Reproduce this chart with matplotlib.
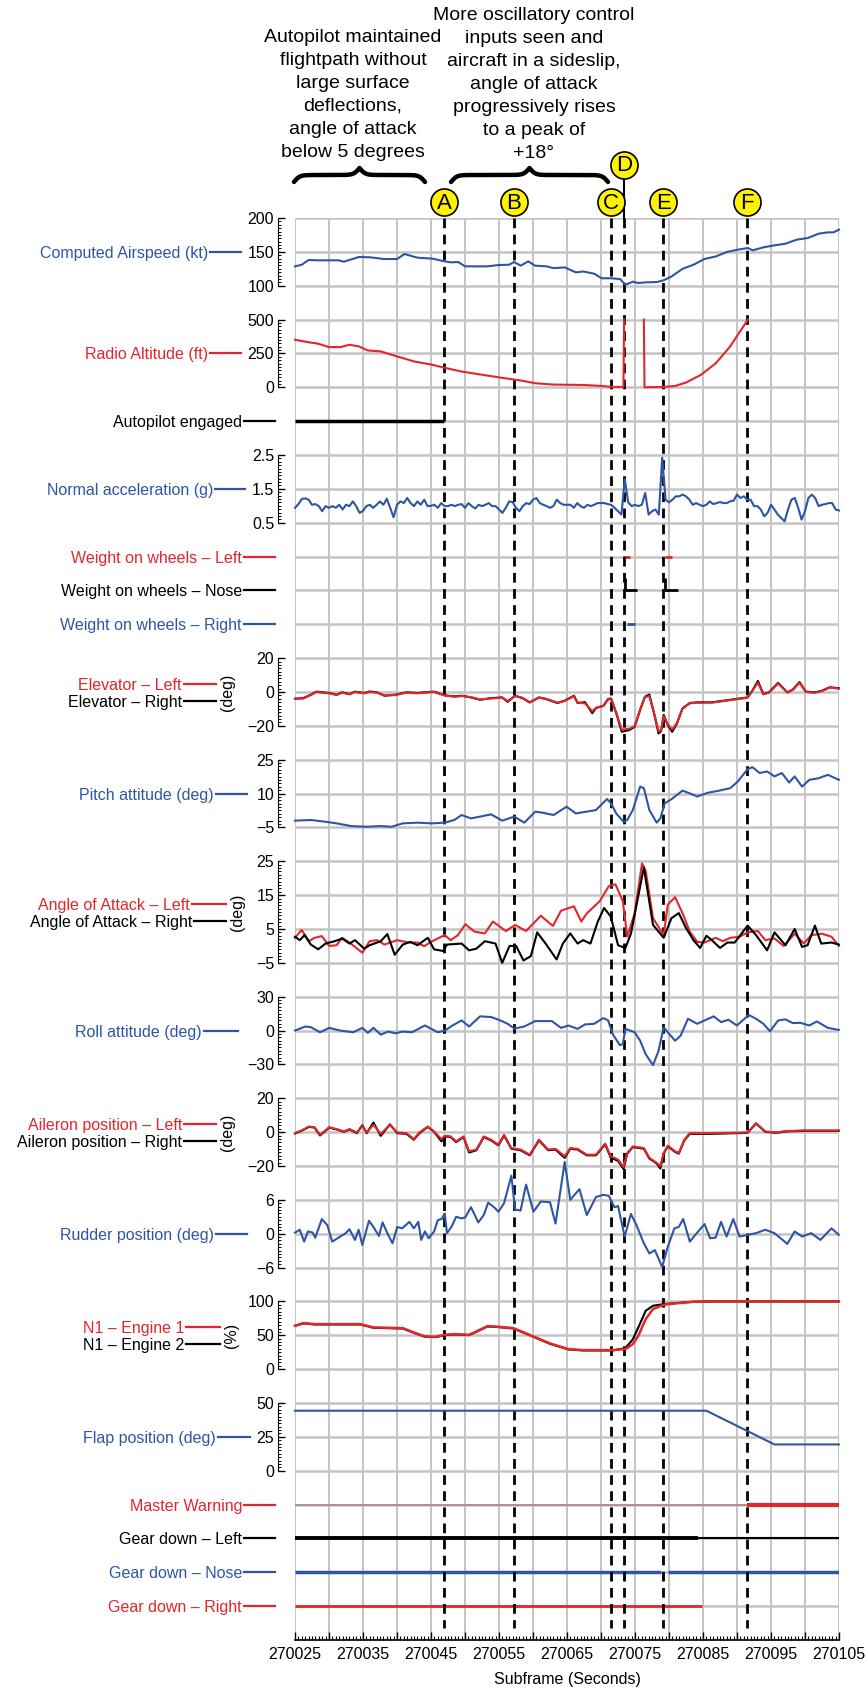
import numpy as np
import matplotlib.pyplot as plt
from matplotlib.ticker import MultipleLocator, AutoMinorLocator, FuncFormatter

plt.rcParams['font.family'] = ['Liberation Sans', 'DejaVu Sans']

BLUE = '#2e55a5'
RED = '#e3262c'
YEL = '#fff200'
GRID = '#c4c4c4'

T0 = 270025  # subframe of first sample, times below are seconds after T0

# event markers
EVENT_NAMES = ['A', 'B', 'C', 'D', 'E', 'F']
EVENT_T = [21.9, 32.2, 46.4, 48.45, 54.15, 66.4]

NOTE_LEFT = ['Autopilot maintained', 'flightpath without', 'large surface', 'deflections,',
             'angle of attack', 'below 5 degrees']
NOTE_RIGHT = ['More oscillatory control', 'inputs seen and', 'aircraft in a sideslip,',
              'angle of attack', 'progressively rises', 'to a peak of', '+18\u00b0']

AIRSPEED_T = [0, 1.0, 2.0, 3.4, 5.0, 6.4, 7.2, 9.4, 11.0, 13.1, 15.0, 16.1, 18.0, 20.2, 22.0,
              22.9, 24.0, 25.0, 26.7, 28.3, 29.9, 31.5, 32.2, 33.2, 34.3, 35.3, 37.0, 38.0,
              39.7, 41.3, 42.4, 44.0, 45.1, 46.5, 47.8, 48.6, 49.7, 50.5, 51.6, 53.2, 54.2,
              55.4, 57.0, 58.6, 60.2, 61.9, 63.5, 65.1, 66.6, 67.3, 68.9, 70.5, 72.1, 73.8,
              75.4, 77.0, 78.3, 79.2, 80.0]
AIRSPEED = [128.6, 131, 138, 137.5, 137.5, 137.5, 135.5, 142.4, 142, 139.4, 139.4, 146.8, 141.4,
            140, 136, 134.5, 135, 128.6, 128.6, 128.6, 130.5, 131, 135, 129.6, 136, 129.6, 128.6,
            126, 127, 119.7, 121, 117.7, 111, 111, 109.8, 101.5, 106, 104, 105, 105.4, 108,
            113.8, 125, 131, 139.4, 143.3, 149.8, 153.2, 155.7, 152.2, 156.7, 159.6, 162, 168,
            170.4, 176.8, 178.8, 178.8, 182.8]

RADALT_T = [0, 1.8, 3.4, 5.0, 6.7, 8.0, 9.4, 10.7, 12.6, 15.0, 17.5, 20.2, 22.0, 24.5, 26.7,
            29.9, 33.2, 35.3, 38.0, 42.4, 45.1, 46.7, 48.3, 48.4, 48.5, 51.3, 51.4, 54.2, 55.9,
            57.5, 59.7, 61.9, 64.0, 66.6]
RADALT = [351, 334, 322, 297, 297, 314, 302, 272, 265, 228, 191, 166, 144, 116, 99, 74, 50, 30,
          20, 17, 10, 2, 3, 500, np.nan, 500, 0, 2, 10, 35, 92, 178, 302, 500]

AUTOPILOT_ON = [(0, 21.9)]

ACC_DT = 0.5
ACCEL = [0.94, 1.05, 1.20, 1.22, 1.18, 1.03, 1.05, 0.99, 0.84, 0.99, 0.94, 0.99, 0.94, 1.03, 0.89, 1.03, 0.99, 1.13, 0.99, 0.79,
         0.85, 0.99, 1.03, 0.94, 1.03, 1.13, 1.03, 1.21, 0.94, 0.66, 1.03, 1.13, 1.08, 1.23, 1.08, 0.99, 1.13, 1.03, 1.18, 0.99,
         1.00, 1.03, 0.94, 1.08, 0.99, 0.99, 1.03, 0.99, 1.03, 1.05, 0.94, 1.08, 0.99, 0.92, 1.03, 0.99, 1.03, 1.08, 0.99, 0.99,
         0.89, 0.79, 0.94, 1.13, 1.11, 0.94, 0.84, 0.99, 1.08, 1.05, 1.18, 1.23, 1.08, 1.03, 0.99, 0.94, 0.99, 1.18, 1.08, 1.03,
         1.03, 1.03, 0.94, 1.08, 0.99, 0.94, 1.03, 0.99, 1.03, 1.08, 1.08, 1.08, 1.05, 1.03, 0.94, 0.84, 0.74, 1.78, 1.10, 0.99,
         1.03, 0.99, 1.03, 1.38, 0.74, 0.84, 0.89, 0.74, 2.42, 1.18, 1.10, 1.18, 1.28, 1.28, 1.33, 1.28, 1.18, 1.03, 1.08, 1.03,
         0.99, 1.03, 1.13, 1.05, 1.08, 1.11, 1.08, 1.08, 1.13, 1.15, 1.33, 1.23, 1.28, 1.18, 1.18, 0.99, 0.99, 0.89, 0.69, 0.79,
         1.03, 0.89, 0.74, 0.64, 0.54, 0.89, 1.18, 1.23, 0.94, 0.59, 0.84, 1.23, 1.33, 1.23, 0.99, 1.03, 1.05, 1.08, 1.08, 0.89, 0.86]

WOW_LEFT = [(48.3, 49.3), (54.4, 55.4)]
WOW_NOSE = [(48.6, 50.3), (54.4, 56.3)]
WOW_RIGHT = [(48.8, 50.0)]

ELEV_T = [0, 1.24, 2.33, 3.14, 5.03, 6.11, 6.93, 8.01, 8.82, 10.17, 10.98, 12.07, 13.15, 14.77,
          16.40, 18.02, 19.10, 20.45, 22.02, 23.43, 24.51, 25.87, 27.22, 28.84, 30.47, 31.28,
          32.36, 33.44, 34.52, 35.88, 36.96, 38.58, 39.66, 41.02, 41.56, 42.64, 43.72, 44.26,
          45.35, 46.05, 46.48, 47.24, 48.05, 49.13, 49.95, 50.76, 51.46, 52.11, 52.92, 53.46,
          53.84, 54.22, 54.82, 55.47, 56.17, 56.98, 58.06, 59.15, 61.31, 64.02, 66.56, 67.26,
          68.07, 68.88, 69.70, 71.05, 72.40, 73.21, 74.19, 75.11, 76.46, 77.54, 78.63, 79.98]
ELEV_L = [-4, -3.8, -1.8, 0, -0.8, -1.8, -0.4, -1.4, 0, -0.8, 0, -0.4, -2, -1.8, -0.4, -0.8, -0.4,
          0, -2, -2.8, -2.4, -3, -4.4, -3.8, -3.4, -5.3, -2.4, -3.4, -6, -3.4, -4, -6.3, -5.3,
          -2.4, -6.3, -6.7, -11.3, -9.3, -8.3, -4.4, -4, -12.3, -22.2, -21.8, -20.2, -10.3, -3,
          -2.4, -14.3, -23.2, -22.6, -14.3, -19.2, -22.2, -18.2, -9.9, -6.7, -6.3, -6.3, -4.8,
          -3.4, 0.6, 5.5, -1.4, -0.4, 5, -0.4, 1.2, 5.5, 0, -0.4, 0.6, 2.6, 2]
ELEV_R = [-4, -3.6, -1.6, 0.2, -0.6, -1.6, -0.2, -1.2, 0.2, -0.6, 0.3, -0.2, -2.2, -1.6, -0.2,
          -0.6, -0.2, 0.2, -2, -2.6, -2.2, -3.2, -4.6, -3.6, -3.2, -5.8, -2.2, -3.6, -6.2, -3.2,
          -4.2, -6.5, -5.1, -2.2, -6.5, -6, -12.5, -9.5, -8.1, -4.2, -3.8, -12.5, -23.5, -22.5,
          -20.6, -10.5, -2.8, -1.5, -14.5, -24.5, -23, -13.5, -19.6, -23.5, -18.6, -9.7, -6.5,
          -6.1, -6.1, -4.6, -3.2, 0.8, 6.5, -1.2, -0.2, 5.4, -0.2, 1.4, 5.9, 0.2, -0.2, 0.8, 2.8, 2.2]

PITCH_T = [0, 2.33, 4.49, 6.11, 8.28, 10.44, 12.61, 14.23, 15.85, 18.02, 20.18, 22.02, 23.43,
           24.51, 25.87, 27.22, 28.84, 30.47, 32.25, 33.71, 35.34, 36.42, 38.04, 39.94, 41.29,
           42.91, 44.26, 45.89, 46.48, 47.24, 48.32, 48.86, 49.68, 50.76, 51.30, 52.11, 53.19,
           53.73, 54.38, 55.36, 56.98, 58.06, 59.15, 60.77, 62.39, 64.02, 65.10, 66.56, 67.26,
           68.34, 69.43, 70.51, 71.59, 72.67, 73.48, 74.57, 75.65, 77.00, 78.36, 79.98]
PITCH = [-2.0, -1.7, -2.5, -3.2, -4.4, -4.7, -4.4, -4.7, -3.2, -2.9, -3.2, -2.9, -1.7, 0.5, -1.0,
         -0.2, 0.8, -2.0, -0.2, -2.9, 2.0, 1.5, 0.5, 4.2, 1.2, 2.0, 2.7, 7.6, 5.7, 1.2, -2.5, -1.7,
         2.7, 13.1, 12.4, 2.7, -2.9, -1.0, 5.7, 7.5, 11.3, 10.1, 8.7, 10.4, 11.3, 12.4, 15.3, 20.8,
         21.7, 19.1, 19.8, 17.6, 19.1, 14.9, 17.6, 13.1, 16.1, 16.8, 18.3, 16.1]

AOA_LEFT = [(0, 2.4), (0.97, 4.7), (2.06, 1.4), (2.87, 2.4), (3.95, 2.9), (5.03, 0), (6.11, 0.2),
            (6.93, 2.4), (8.01, 1.0), (9.90, -2), (10.98, 1.4), (12.07, 1.7), (13.15, 0.4),
            (15.04, 1.7), (16.67, 1.0), (18.02, 1.0), (18.99, -0.1), (20.18, 1.4), (22.02, 3.2),
            (22.89, 1.7), (23.97, 3.2), (25.05, 6.4), (26.41, 4.2), (27.92, 3.7), (29.11, 7.2),
            (31.01, 4.4), (32.36, 6.2), (33.98, 4.4), (36.15, 8.9), (37.93, 5.9), (39.12, 10.4),
            (41.02, 11.7), (42.10, 7.2), (42.91, 9.6), (44.81, 13.2), (46.16, 17.7), (47.13, 18.2),
            (48.21, 13.2), (48.86, 2.7), (49.95, 9.6), (51.03, 24.4), (51.57, 22.2), (52.65, 8.2),
            (54.22, 3.2), (54.82, 12.2), (55.90, 14.4), (56.98, 9.7), (58.06, 4.2), (59.15, 1.2),
            (60.23, 1.0), (61.85, 2.4), (62.93, 1.4), (64.02, 2.4), (65.37, 2.7), (66.56, 4.0),
            (68.07, 4.4), (69.16, 1.7), (70.51, 2.2), (71.86, 0), (73.48, 3.6), (74.84, 0.7),
            (75.92, 3.2), (77.54, 3.6), (78.90, 2.7), (79.98, 0)]
AOA_RIGHT = [(0, 2.7), (0.70, 1.7), (1.41, 3.2), (2.33, 0.4), (3.41, -1.0), (4.49, 0.7),
             (5.84, 1.4), (6.93, 2.2), (8.01, 0.7), (8.82, 1.7), (10.17, -0.8), (10.98, 0.2),
             (12.61, 1.4), (13.58, 3.5), (14.66, -2.6), (15.85, 0.4), (16.94, 1.2), (18.02, 0.2),
             (19.53, 2.4), (20.45, -1.0), (21.81, -1.5), (22.35, 0.4), (24.51, 0.7), (25.60, -1.3),
             (26.68, -0.8), (27.92, 1.4), (29.49, 0.7), (30.47, -5), (31.55, 0), (32.52, 0),
             (33.60, -4.3), (34.69, -3), (35.61, 4.0), (36.85, 0.7), (38.47, -4), (39.39, 0.7),
             (40.48, 3.7), (41.56, 0.7), (42.37, 1.7), (43.45, 0.7), (44.53, 7.2), (45.45, 11.2),
             (46.43, 8.7), (47.51, 0.2), (48.59, -0.6), (49.40, 3.6), (51.30, 23.2), (52.65, 6.2),
             (54.22, 2.4), (55.36, 8.2), (56.44, 9.7), (57.52, 5.2), (58.60, 1.7), (59.58, -0.6),
             (60.50, 3.0), (61.31, 1.7), (62.50, -0.6), (63.58, 1.0), (64.66, 1.0), (66.56, 6.0),
             (67.80, 3.2), (69.43, -1.3), (70.51, 4.0), (72.13, 0.2), (73.48, 5.0), (74.57, -0.3),
             (75.38, 0.2), (76.46, 6.0), (77.38, 0.7), (78.90, 1.0), (79.98, 0.4)]

ROLL = [(0, 0), (1.52, 3.6), (2.33, 3), (3.68, -1.5), (5.03, 2.4), (6.66, 0), (8.55, -1.5),
        (9.90, 2.4), (10.71, -2.1), (11.53, 2.4), (12.61, -3.6), (13.69, -0.9), (14.77, -2.4),
        (15.85, -0.9), (17.21, -1.5), (19.10, 4.5), (21.00, -1.5), (22.02, 0), (23.16, 4.5),
        (24.51, 9), (25.60, 3.6), (27.22, 12.6), (28.84, 12), (30.19, 9), (31.28, 6), (32.25, 1.8),
        (33.71, 3.6), (35.34, 8.4), (37.77, 8.4), (39.12, 2.4), (40.21, 4.5), (41.56, 1.5),
        (42.64, 5.4), (43.99, 6), (45.35, 11.1), (46.05, 9), (46.70, -3), (47.78, -12.9),
        (48.21, -12), (48.59, 1.5), (49.95, -1.5), (50.76, -9), (51.57, -21), (52.65, -30.6),
        (53.46, -18), (54.22, 3), (54.82, -1.5), (55.90, -9), (56.71, -4.5), (57.79, 10.5),
        (59.15, 6), (60.23, 9), (61.58, 12.6), (62.66, 7.5), (63.74, 9.6), (64.99, 4.5),
        (66.72, 13.8), (67.80, 10.5), (68.88, 6), (69.86, -0.6), (71.05, 9), (72.13, 9.9),
        (73.21, 6.6), (74.30, 6.9), (75.65, 4.5), (76.73, 8.1), (78.36, 2.4), (79.98, 0.6)]

AILERON_L = [(0, -0.6), (0.97, 1), (2.06, 3.3), (2.87, 2.9), (3.68, -1.6), (5.03, 2.9), (6.11, 1.8),
             (7.20, 0.4), (8.01, 1.8), (9.09, -0.2), (9.90, 3.7), (10.55, -0.2), (11.53, 4.3),
             (12.61, -1), (13.96, 4.3), (15.04, -0.2), (16.40, -0.6), (17.48, -4.1), (18.29, -0.2),
             (19.53, 3.3), (20.45, 0.4), (21.54, -4.1), (22.02, -2.1), (22.89, -2.5), (23.70, -5.5),
             (24.78, -2.5), (25.60, -11.3), (26.68, -10.3), (27.76, -2.5), (28.84, -4.5),
             (29.92, -7.4), (30.74, -1.6), (31.82, -9.4), (33.17, -10.3), (34.52, -13.3),
             (35.88, -4.5), (37.23, -10.3), (38.31, -9.9), (39.66, -14.2), (40.48, -9.4),
             (41.56, -9.9), (42.91, -13.3), (44.26, -13.3), (45.62, -6.8), (46.43, -14.2),
             (47.51, -16.2), (48.32, -20.7), (48.86, -12.3), (49.68, -8.4), (51.30, -9.4),
             (52.11, -15.2), (53.19, -18.1), (53.73, -20.1), (54.22, -12.3), (54.82, -8),
             (55.90, -11.3), (56.44, -12.3), (57.25, -4.5), (58.06, -0.6), (61.31, -0.6),
             (66.56, -0.2), (67.80, 5.3), (69.16, 0.4), (70.78, -0.2), (72.13, 0.6), (74.84, 1),
             (79.98, 1)]
AILERON_R = [(0, -0.8), (0.97, 0.8), (2.06, 3.1), (2.87, 2.7), (3.68, -2.0), (5.03, 2.7), (6.11, 1.6),
             (7.20, 0.2), (8.01, 1.6), (9.09, -0.6), (9.90, 4.1), (10.55, -0.6), (11.53, 5.7),
             (12.61, -2.2), (13.96, 4.6), (15.04, -0.6), (16.40, -1.0), (17.48, -4.5), (18.29, -0.6),
             (19.53, 3.1), (20.45, 0.2), (21.54, -5.5), (22.02, -2.5), (22.89, -2.9), (23.70, -5.9),
             (24.78, -2.9), (25.60, -12), (26.68, -10.7), (27.76, -2.9), (28.84, -4.9),
             (29.92, -7.8), (30.74, -2.0), (31.82, -9.8), (33.17, -10.7), (34.52, -13.7),
             (35.88, -4.9), (37.23, -10.7), (38.31, -10.3), (39.66, -15.2), (40.48, -9.8),
             (41.56, -10.3), (42.91, -13.7), (44.26, -13.7), (45.62, -7.2), (46.43, -15),
             (47.51, -17), (48.32, -21.8), (48.86, -12.7), (49.68, -8.8), (51.30, -9.8),
             (52.11, -15.6), (53.19, -18.5), (53.73, -21.5), (54.22, -12.7), (54.82, -8.4),
             (55.90, -11.7), (56.44, -12.7), (57.25, -4.9), (58.06, -1.0), (61.31, -1.0),
             (66.56, -0.4), (67.80, 5.1), (69.16, 0.2), (70.78, -0.4), (72.13, 0.4), (74.84, 0.8),
             (79.98, 0.8)]

RUDDER = [(0, 0.2), (0.70, 0.7), (1.35, -1.4), (1.89, 0.4), (2.60, 0.2), (2.98, -0.7), (3.95, 2.6),
          (4.76, 1.5), (5.47, -1.4), (6.66, -0.5), (7.47, 0.1), (8.01, 0.8), (8.82, -1.1),
          (9.36, 0.7), (9.90, -2.0), (10.88, 2.3), (11.53, 1.2), (12.34, -0.4), (12.88, 2.0),
          (13.69, -0.2), (14.34, -1.7), (15.04, 1.2), (15.75, 0.95), (16.83, 2.1), (17.48, 0.95),
          (18.13, 2.1), (18.56, -1.1), (19.10, 0.4), (19.64, -0.8), (20.45, 0.4), (21.00, 2.4),
          (21.54, 2.6), (22.02, 3.6), (22.35, 0.1), (23.00, 1.2), (23.70, 3.0), (24.51, 2.7),
          (25.05, 2.9), (25.87, 4.7), (26.41, 3.4), (26.95, 2.0), (27.76, 3.3), (28.41, 5.5),
          (29.27, 4.7), (29.92, 3.9), (30.74, 5.4), (31.82, 10.3), (32.36, 4.3), (33.17, 4.1),
          (33.98, 8.7), (35.06, 3.9), (36.15, 5.7), (37.50, 5.6), (38.31, 1.8), (39.66, 12.7),
          (40.48, 6.0), (41.83, 7.9), (42.91, 3.3), (44.26, 6.5), (45.35, 6.9), (46.16, 6.7),
          (46.97, 4.7), (47.51, 4.9), (48.48, -0.5), (49.40, 3.5), (50.22, 1.5), (51.30, -1.7),
          (52.11, -3.5), (52.92, -2.9), (53.46, -4.4), (54.00, -5.9), (54.82, -2.3), (55.79, 0.95),
          (56.44, 1.2), (57.09, 2.6), (58.06, -1.4), (59.15, 0.2), (60.23, 1.7), (61.04, -0.8),
          (61.85, -0.7), (62.66, 2.1), (63.47, -0.5), (64.45, 2.6), (65.37, -0.5), (66.56, -0.2),
          (67.80, 0.1), (69.16, 0.7), (70.51, 0.1), (72.40, -1.8), (73.48, 0.4), (74.57, -0.5),
          (75.92, 0.1), (77.27, -1.1), (78.90, 0.95), (79.98, -0.2)]

N1_ENG1 = [(0, 64), (1.24, 68), (2.87, 66.5), (6.11, 66.5), (9.63, 66.5), (11.53, 61.6), (15.85, 60.6),
           (17.48, 54.2), (19.10, 48.3), (20.73, 47.8), (22.02, 50.7), (23.43, 51.7), (25.60, 50.7),
           (26.68, 55.7), (28.30, 63.5), (29.92, 62.6), (32.09, 60.6), (34.25, 51.7), (37.50, 37.9),
           (40.21, 29.6), (42.37, 28.1), (46.70, 28.1), (48.59, 29.6), (49.68, 36.9), (50.49, 49.3),
           (51.57, 73.9), (52.65, 88.7), (54.22, 95.1), (55.90, 97), (58.60, 99.5), (61.31, 100),
           (79.98, 100)]
N1_ENG2 = [(0, 64), (1.24, 67.5), (2.87, 66), (6.11, 66), (9.63, 66), (11.53, 61), (15.85, 60),
           (17.48, 53.6), (19.10, 47.8), (20.73, 47.3), (22.02, 50.2), (23.43, 51.2), (25.60, 50.2),
           (26.68, 55.2), (28.30, 63), (29.92, 62.1), (32.09, 60.1), (34.25, 51.2), (37.50, 37.4),
           (40.21, 29.1), (42.37, 27.6), (46.70, 27.6), (48.59, 31), (49.68, 44), (50.49, 61.6),
           (51.57, 86.2), (52.65, 93.6), (54.22, 96), (55.90, 97.5), (58.60, 99.5), (61.31, 100),
           (79.98, 100)]

FLAP_T = [0, 60.5, 70.5, 79.98]
FLAP = [44.3, 44.3, 19.4, 19.4]

MASTER_WARN_ON = [(66.4, 80.0)]
GEAR_LEFT_ON = [(0, 59.3)]
GEAR_NOSE_ON = [(0, 53.8), (54.9, 80.0)]
GEAR_RIGHT_ON = [(0, 59.8)]

# ---------------------------------------------------------------- layout
W, H = 865, 1689
X0, X1 = 295, 839
Y0, Y1 = 218, 1640
NROWS = 42
RH = (Y1 - Y0) / NROWS


def row_px(r):
    return Y0 + r * RH


fig = plt.figure(figsize=(W / 100, H / 100), dpi=100)

bg = fig.add_axes([X0 / W, 1 - Y1 / H, (X1 - X0) / W, (Y1 - Y0) / H])
bg.set_xlim(T0, T0 + 80)
bg.set_ylim(NROWS, 0)
bg.set_yticks(range(NROWS + 1))
bg.tick_params(axis='y', length=0, labelleft=False)
bg.grid(axis='y', color=GRID, lw=1.8)
bg.xaxis.set_major_locator(MultipleLocator(5))
bg.xaxis.set_minor_locator(MultipleLocator(0.5))
bg.grid(axis='x', which='major', color=GRID, lw=1.4)
bg.xaxis.set_major_formatter(FuncFormatter(
    lambda x, p: '%d' % round(x) if round(x - T0) % 10 == 0 else ''))
bg.tick_params(axis='x', which='major', direction='in', length=6, width=1, labelsize=11.5, pad=5)
bg.tick_params(axis='x', which='minor', direction='in', length=3, width=0.8)
for s in ['top', 'right', 'left']:
    bg.spines[s].set_visible(False)
bg.spines['bottom'].set_linewidth(1.2)
bg.set_xlabel('Subframe (Seconds)', fontsize=11.5, labelpad=7)
bg.set_axisbelow(True)

# discrete parameters, one grid row each
def discrete(row, spans, color, lw=2.5, tick=False):
    for a, b in spans:
        if tick:
            bg.plot([T0 + a, T0 + a, T0 + b], [row - 0.37, row, row], color=color, lw=lw,
                    solid_capstyle='butt')
        else:
            bg.plot([T0 + a, T0 + b], [row, row], color=color, lw=lw, solid_capstyle='butt')


discrete(6, AUTOPILOT_ON, 'black')
discrete(10, WOW_LEFT, RED, lw=2)
discrete(11, WOW_NOSE, 'black', lw=2, tick=True)
discrete(12, WOW_RIGHT, BLUE, lw=2)
bg.plot([T0, T0 + MASTER_WARN_ON[0][0]], [38, 38], color='#b08c8c', lw=1.3)
discrete(38, MASTER_WARN_ON, RED, lw=3)
bg.plot([T0, T0 + 80], [39, 39], color='black', lw=1.5)
discrete(39, GEAR_LEFT_ON, 'black', lw=2.8)
discrete(40, GEAR_NOSE_ON, BLUE, lw=2.5)
discrete(41, GEAR_RIGHT_ON, RED, lw=2)

# event lines and labelled circles
for name, t in zip(EVENT_NAMES, EVENT_T):
    bg.plot([T0 + t, T0 + t], [0, 41.65], color='black', lw=2,
            linestyle=(0, (3.5, 2.3)), zorder=4)
    yc = -1.57 if name == 'D' else -0.47
    if name == 'D':
        bg.plot([T0 + t, T0 + t], [yc + 0.35, 0], color='black', lw=1.5, clip_on=False)
    bg.plot([T0 + t], [yc], 'o', ms=19.5, mfc=YEL, mec='black', mew=1.2, clip_on=False, zorder=6)
    bg.text(T0 + t, yc + 0.03, name, ha='center', va='center', fontsize=16, zorder=7,
            clip_on=False)


def panel(r_top, r_bot, lo, hi, ticks):
    ax = fig.add_axes([X0 / W, 1 - row_px(r_bot) / H, (X1 - X0) / W, (r_bot - r_top) * RH / H])
    ax.set_xlim(T0, T0 + 80)
    ax.set_ylim(lo, hi)
    ax.patch.set_visible(False)
    for s in ['top', 'right', 'bottom']:
        ax.spines[s].set_visible(False)
    ax.spines['left'].set_position(('outward', 12))
    ax.set_xticks([])
    ax.set_yticks(ticks)
    ax.yaxis.set_minor_locator(AutoMinorLocator(10))
    ax.tick_params(axis='y', which='major', direction='in', length=5, width=1,
                   labelsize=11.5, pad=3)
    ax.tick_params(axis='y', which='minor', direction='in', length=2.5, width=0.7)
    return ax


def tv(pairs):
    a = np.array(pairs, dtype=float)
    return T0 + a[:, 0], a[:, 1]


LW = 1.5
ax = panel(0, 2, 100, 200, [100, 150, 200])
ax.plot(T0 + np.array(AIRSPEED_T), AIRSPEED, color=BLUE, lw=LW, clip_on=False)

ax = panel(3, 5, 0, 500, [0, 250, 500])
ax.plot(T0 + np.array(RADALT_T), RADALT, color=RED, lw=LW, clip_on=False)

ax = panel(7, 9, 0.5, 2.5, [0.5, 1.5, 2.5])
ax.plot(T0 + np.arange(len(ACCEL)) * ACC_DT, ACCEL, color=BLUE, lw=LW, clip_on=False)

ax = panel(13, 15, -20, 20, [-20, 0, 20])
ax.plot(T0 + np.array(ELEV_T), ELEV_R, color='black', lw=LW, clip_on=False)
ax.plot(T0 + np.array(ELEV_T), ELEV_L, color=RED, lw=LW, clip_on=False)

ax = panel(16, 18, -5, 25, [-5, 10, 25])
ax.plot(T0 + np.array(PITCH_T), PITCH, color=BLUE, lw=LW, clip_on=False)

ax = panel(19, 22, -5, 25, [-5, 5, 15, 25])
ax.plot(*tv(AOA_LEFT), color=RED, lw=LW, clip_on=False)
ax.plot(*tv(AOA_RIGHT), color='black', lw=LW, clip_on=False)

ax = panel(23, 25, -30, 30, [-30, 0, 30])
ax.plot(*tv(ROLL), color=BLUE, lw=LW, clip_on=False)

ax = panel(26, 28, -20, 20, [-20, 0, 20])
ax.plot(*tv(AILERON_R), color='black', lw=LW, clip_on=False)
ax.plot(*tv(AILERON_L), color=RED, lw=LW, clip_on=False)

ax = panel(29, 31, -6, 6, [-6, 0, 6])
ax.plot(*tv(RUDDER), color=BLUE, lw=LW, clip_on=False)

ax = panel(32, 34, 0, 100, [0, 50, 100])
ax.plot(*tv(N1_ENG2), color='black', lw=LW, clip_on=False)
ax.plot(*tv(N1_ENG1), color=RED, lw=LW + 0.3, clip_on=False)

ax = panel(35, 37, 0, 50, [0, 25, 50])
ax.plot(T0 + np.array(FLAP_T), FLAP, color=BLUE, lw=LW, clip_on=False)

# ---------------------------------------------------------------- labels
ov = fig.add_axes([0, 0, 1, 1])
ov.set_xlim(0, W)
ov.set_ylim(H, 0)
ov.axis('off')

LABELS = [
    ('Computed Airspeed (kt)', BLUE, row_px(1), 210, 241),
    ('Radio Altitude (ft)', RED, row_px(4), 210, 241),
    ('Autopilot engaged', 'black', row_px(6), 244, 275),
    ('Normal acceleration (g)', BLUE, row_px(8), 215, 245),
    ('Weight on wheels \u2013 Left', RED, row_px(10), 244, 275),
    ('Weight on wheels \u2013 Nose', 'black', row_px(11), 244, 275),
    ('Weight on wheels \u2013 Right', BLUE, row_px(12), 244, 275),
    ('Elevator \u2013 Left', RED, row_px(14) - 8.5, 184, 216),
    ('Elevator \u2013 Right', 'black', row_px(14) + 8.5, 184, 216),
    ('Pitch attitude (deg)', BLUE, row_px(17), 216, 247),
    ('Angle of Attack \u2013 Left', RED, row_px(20.5) - 8.5, 192, 226),
    ('Angle of Attack \u2013 Right', 'black', row_px(20.5) + 8.5, 194, 226),
    ('Roll attitude (deg)', BLUE, row_px(24), 204, 238),
    ('Aileron position \u2013 Left', RED, row_px(27) - 8.5, 184, 216),
    ('Aileron position \u2013 Right', 'black', row_px(27) + 8.5, 184, 216),
    ('Rudder position (deg)', BLUE, row_px(30), 216, 247),
    ('N1 \u2013 Engine 1', RED, row_px(33) - 8.5, 186, 220),
    ('N1 \u2013 Engine 2', 'black', row_px(33) + 8.5, 186, 220),
    ('Flap position (deg)', BLUE, row_px(36), 218, 250),
    ('Master Warning', RED, row_px(38), 244, 275),
    ('Gear down \u2013 Left', 'black', row_px(39), 244, 275),
    ('Gear down \u2013 Nose', BLUE, row_px(40), 244, 275),
    ('Gear down \u2013 Right', RED, row_px(41), 244, 275),
]
for txt, c, y, xa, xb in LABELS:
    ov.text(xa - 2, y, txt, color=c, fontsize=11.5, ha='right', va='center_baseline')
    ov.plot([xa, xb], [y, y], color=c, lw=1.6)

for txt, x, r in [('(deg)', 228, 14), ('(deg)', 238, 20.5), ('(deg)', 228, 27), ('(%)', 231, 33)]:
    ov.text(x, row_px(r), txt, rotation=90, fontsize=11.5, ha='center', va='center')


def brace(x0, x1, yb, h, beta=0.35):
    xm = (x0 + x1) / 2
    xs = np.linspace(x0, xm, 200)
    yh = 1 / (1 + np.exp(-beta * (xs - x0))) + 1 / (1 + np.exp(-beta * (xs - xm)))
    xx = np.concatenate([xs, (2 * xm - xs[::-1])[1:]])
    yy = np.concatenate([yh, yh[::-1][1:]])
    ov.plot(xx, yb - (yy - yy.min()) * h, color='black', lw=3.2, solid_capstyle='round')


brace(294, 425, 182, 14)
brace(451, 608, 182, 14)

# annotation blocks, one text per line (23 px line pitch)
for i, line in enumerate(NOTE_LEFT):
    ov.text(353, 37 + 23 * i, line, ha='center', va='center', fontsize=14)
for i, line in enumerate(NOTE_RIGHT):
    ov.text(534, 15 + 23 * i, line, ha='center', va='center', fontsize=14)

fig.savefig('out.png', dpi=100)
